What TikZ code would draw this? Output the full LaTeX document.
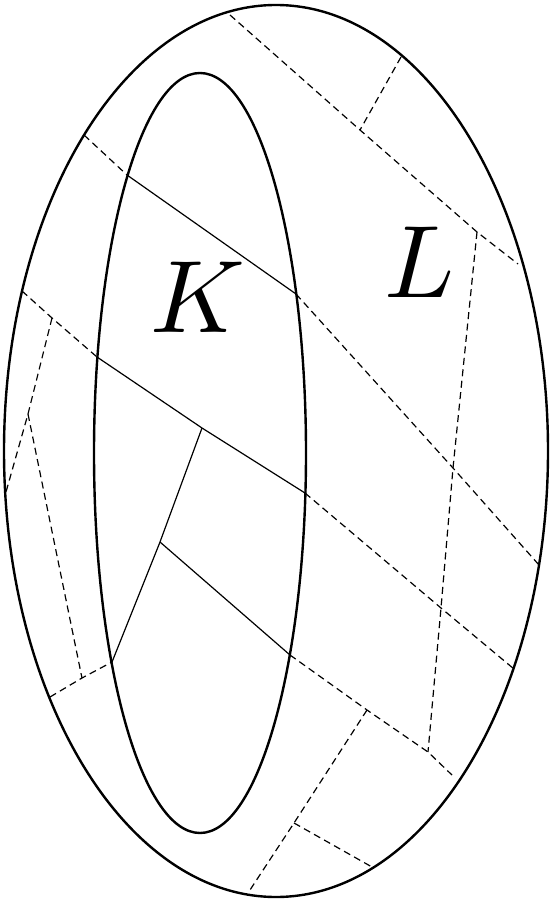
\documentclass[tikz,border=0pt]{standalone}
\usetikzlibrary{positioning}
\begin{document}
\begin{tikzpicture}[x=1pt,y=-1pt,
  rim/.style={line width=2.4pt},
  cut/.style={line width=1.2pt},
  ghost/.style={line width=1.2pt,dash pattern=on 7pt off 4.5pt},
  letter/.style={anchor=base,inner sep=0pt,scale=10.3}]
%\draw[help lines] (0,0) grid[step=50] (551,901);
\useasboundingbox (0,0) rectangle (551,901);
\draw[rim] (276,451) ellipse [x radius=272,y radius=446];
\draw[rim] (200,453) ellipse [x radius=106,y radius=380];
% points
\foreach \x/\y/\n in {230/15/t1,360/130/t2,477/232/t3,518/264/t4,401/57/t5}
\coordinate (\n) at (\x,\y);
\foreach \x/\y/\n in {453/468/r1,441/608/r2,428/752/r3}
\coordinate (\n) at (\x,\y);
\foreach \x/\y/\n in {84/135/a1,127/175/a2,296/294/a3,539/565/a4}
\coordinate (\n) at (\x,\y);
\foreach \x/\y/\n in {22/291/b1,52/318/b2,97/357/b3,202/428/b4,305/493/b5,514/669/b6}
\coordinate (\n) at (\x,\y);
\foreach \x/\y/\n in {28/414/c1,6/492/c2,82/678/c3,50/697/d1,112/662/d2}
\coordinate (\n) at (\x,\y);
\foreach \x/\y/\n in {160/542/e1,290/655/e2,367/710/f1,452/775/f2,294/823/g1,248/893/g2,372/867/g3}
\coordinate (\n) at (\x,\y);
% inside K
\draw[cut] (a2) -- (a3);
\draw[cut] (b3) -- (b4) -- (b5);
\draw[cut] (d2) -- (e1) -- (b4);
\draw[cut] (e1) -- (e2);
% in L
\draw[ghost] (t1) -- (t2) -- (t3) -- (t4);
\draw[ghost] (t5) -- (t2);
\draw[ghost] (t3) -- (r1) -- (r2) -- (r3);
\draw[ghost] (a1) -- (a2);
\draw[ghost] (a3) -- (r1) -- (a4);
\draw[ghost] (b1) -- (b2) -- (b3);
\draw[ghost] (b5) -- (r2) -- (b6);
\draw[ghost] (b2) -- (c1) -- (c2);
\draw[ghost] (c1) -- (c3);
\draw[ghost] (d1) -- (c3) -- (d2);
\draw[ghost] (e2) -- (f1) -- (r3) -- (f2);
\draw[ghost] (f1) -- (g1) -- (g2);
\draw[ghost] (g1) -- (g3);
%
\node[letter] (kay) at (198,332) {$K$};
\node[letter] (ell) at (420,297) {$L$};
\end{tikzpicture}
\end{document}
